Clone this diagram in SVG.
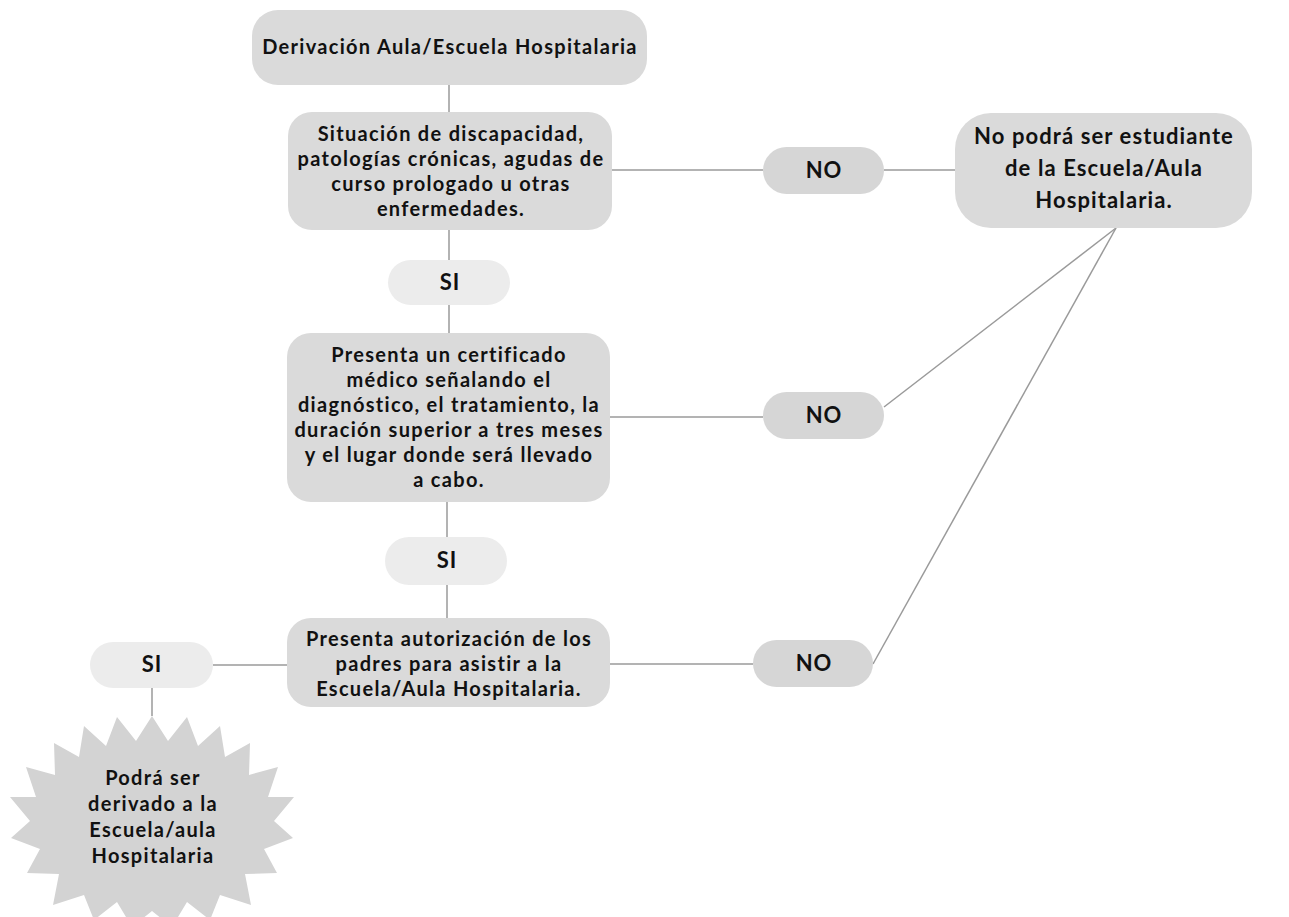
<svg xmlns="http://www.w3.org/2000/svg" width="1289" height="917" viewBox="0 0 1289 917">
<style>
.box{fill:#dadada}
.si{fill:#ececec}
.no{fill:#d6d6d6}
.star{fill:#d3d3d3}
.ln{stroke:#9a9a9a;stroke-width:1.5;fill:none}
text{font-family:"Lato","Liberation Sans",sans-serif;font-weight:bold;fill:#111;text-anchor:middle;font-size:20px;letter-spacing:1.3px}
.big{font-size:22px;letter-spacing:1.1px}
.lbl{font-size:22px;letter-spacing:1px}
</style>
<rect width="1289" height="917" fill="#ffffff"/>
<g id="connectors">
<line class="ln" x1="449" y1="85" x2="449" y2="112"/>
<line class="ln" x1="449" y1="230" x2="449" y2="260"/>
<line class="ln" x1="449" y1="305" x2="449" y2="333"/>
<line class="ln" x1="447" y1="502" x2="447" y2="537"/>
<line class="ln" x1="447" y1="585" x2="447" y2="618"/>
<line class="ln" x1="612" y1="170" x2="763" y2="170"/>
<line class="ln" x1="884" y1="170" x2="955" y2="170"/>
<line class="ln" x1="610" y1="417" x2="763" y2="417"/>
<line class="ln" x1="884" y1="407" x2="1116" y2="228"/>
<line class="ln" x1="610" y1="664" x2="753" y2="664"/>
<line class="ln" x1="873" y1="664" x2="1116" y2="228"/>
<line class="ln" x1="213" y1="665" x2="287" y2="665"/>
<line class="ln" x1="152" y1="688" x2="152" y2="716"/>
</g>
<g id="start">
<rect class="box" x="252" y="10" width="395" height="75" rx="26"/>
<text x="450" y="54">Derivación Aula/Escuela Hospitalaria</text>
</g>
<g id="q1">
<rect class="box" x="288" y="112" width="324" height="118" rx="24"/>
<text x="451" y="141">Situación de discapacidad,</text>
<text x="451" y="166">patologías crónicas, agudas de</text>
<text x="451" y="191">curso prologado u otras</text>
<text x="451" y="216">enfermedades.</text>
</g>
<g id="si1">
<rect class="si" x="388" y="260" width="122" height="45" rx="22.5"/>
<text class="lbl" x="450" y="290">SI</text>
</g>
<g id="q2">
<rect class="box" x="287" y="333" width="323" height="169" rx="24"/>
<text x="449" y="362">Presenta un certificado</text>
<text x="449" y="387">médico señalando el</text>
<text x="449" y="412">diagnóstico, el tratamiento, la</text>
<text x="449" y="437">duración superior a tres meses</text>
<text x="449" y="462">y el lugar donde será llevado</text>
<text x="449" y="487">a cabo.</text>
</g>
<g id="si2">
<rect class="si" x="385" y="537" width="122" height="48" rx="24"/>
<text class="lbl" x="447" y="568">SI</text>
</g>
<g id="q3">
<rect class="box" x="287" y="618" width="323" height="89" rx="24"/>
<text x="449" y="646">Presenta autorización de los</text>
<text x="449" y="671">padres para asistir a la</text>
<text x="449" y="696">Escuela/Aula Hospitalaria.</text>
</g>
<g id="no1">
<rect class="no" x="763" y="147" width="121" height="47" rx="23.5"/>
<text class="lbl" x="824" y="178">NO</text>
</g>
<g id="no2">
<rect class="no" x="763" y="392" width="121" height="47" rx="23.5"/>
<text class="lbl" x="824" y="423">NO</text>
</g>
<g id="no3">
<rect class="no" x="753" y="640" width="120" height="47" rx="23.5"/>
<text class="lbl" x="814" y="671">NO</text>
</g>
<g id="reject">
<rect class="box" x="955" y="113" width="297" height="115" rx="36"/>
<text class="big" x="1104" y="144">No podrá ser estudiante</text>
<text class="big" x="1104" y="176">de la Escuela/Aula</text>
<text class="big" x="1104" y="208">Hospitalaria.</text>
</g>
<g id="si3">
<rect class="si" x="90" y="642" width="123" height="46" rx="23"/>
<text class="lbl" x="152" y="672">SI</text>
</g>
<g id="accept">
<polygon class="star" points="152,716 168,741 187,717 198,746 220,726 225,757 250,743 249,775 278,767 268,797 294,797 274,821 293,838 264,849 277,873 245,874 251,905 220,895 210,920 187,902 172,927 152,911 132,927 117,902 94,920 84,895 53,905 59,874 27,873 40,849 11,838 30,821 10,797 36,797 26,767 55,775 54,743 79,757 84,726 106,746 117,717 136,741"/>
<text x="153" y="785">Podrá ser</text>
<text x="153" y="811">derivado a la</text>
<text x="153" y="837">Escuela/aula</text>
<text x="153" y="863">Hospitalaria</text>
</g>
</svg>
